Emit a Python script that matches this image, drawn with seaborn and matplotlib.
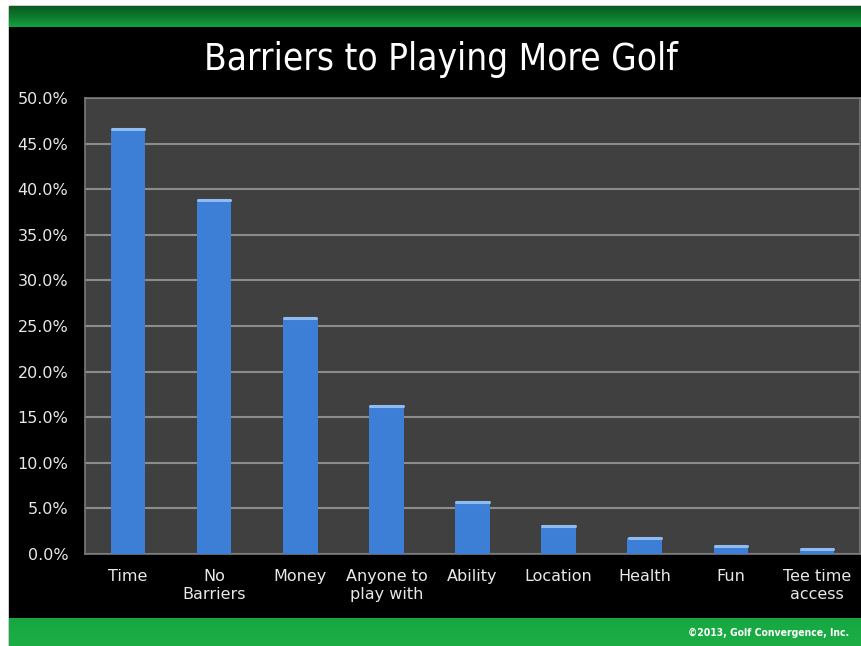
import matplotlib
matplotlib.use("Agg")
import matplotlib.pyplot as plt
import matplotlib.patches as mpatches
import numpy as np
import pandas as pd
import seaborn as sns

# Survey results: share of golfers citing each barrier
categories = ["Time", "No\nBarriers", "Money", "Anyone to\nplay with", "Ability",
              "Location", "Health", "Fun", "Tee time\naccess"]
shares = [46.6, 38.8, 25.9, 16.2, 5.7, 3.1, 1.7, 0.9, 0.5]
y_ticks = [0, 5, 10, 15, 20, 25, 30, 35, 40, 45, 50]
title = "Barriers to Playing More Golf"
credit = "©2013, Golf Convergence, Inc."

df = pd.DataFrame({"barrier": categories, "share": shares})

sns.set_theme(style="dark")
plt.rcParams["font.family"] = ["DejaVu Sans"]

W, H = 862, 646
fig = plt.figure(figsize=(W / 100, H / 100), dpi=100)
fig.patch.set_facecolor("white")

def fx(px):
    return px / W

def fy(py):
    return 1 - py / H

# slide background: black panel with green bands above and below
fig.patches.append(mpatches.Rectangle((fx(9), fy(646)), fx(862 - 9), (646 - 6) / H,
                                      transform=fig.transFigure, color="black", zorder=-5))
grad = np.linspace(0, 1, 50).reshape(-1, 1)
band_ax = fig.add_axes([fx(9), fy(27), fx(862 - 9), (27 - 6) / H])
band_ax.imshow(grad, aspect="auto", extent=[0, 1, 0, 1],
               cmap=matplotlib.colors.LinearSegmentedColormap.from_list(
                   "g1", ["#0b5a22", "#0d7a2e", "#13a040"]))
band_ax.set_axis_off()
bot_ax = fig.add_axes([fx(9), 0, fx(862 - 9), (646 - 618) / H])
bot_ax.imshow(grad, aspect="auto", extent=[0, 1, 0, 1],
              cmap=matplotlib.colors.LinearSegmentedColormap.from_list(
                  "g2", ["#17a742", "#1cae45"]))
bot_ax.set_axis_off()
bot_ax.text(0.985, 0.45, credit, color="white", fontsize=7.5, ha="right", va="center",
            transform=bot_ax.transAxes, fontweight="bold", fontstretch="condensed")

ax = fig.add_axes([fx(85), fy(554), fx(860 - 85), (554 - 98) / H])
ax.set_facecolor("#404040")

sns.barplot(data=df, x="barrier", y="share", color="#3d7fd6", width=0.4,
            saturation=1, linewidth=0, edgecolor="none", ax=ax, zorder=3)

# lighter cap along the top of each bar
for p in ax.patches:
    x0, w, h = p.get_x(), p.get_width(), p.get_height()
    ax.plot([x0 + w * 0.03, x0 + w * 0.97], [h, h], color="#8fbdf2",
            linewidth=2.2, solid_capstyle="round", zorder=4)

ax.set_ylim(0, 50)
ax.set_xlim(-0.5, len(categories) - 0.5)
ax.set_yticks(y_ticks)
ax.set_yticklabels([f"{v:.1f}%" for v in y_ticks])
ax.yaxis.grid(True, color="#8c8c8c", linewidth=1.5, zorder=0)
ax.xaxis.grid(False)
ax.set_axisbelow(True)
ax.set_xlabel("")
ax.set_ylabel("")
ax.tick_params(axis="y", length=0, pad=12, labelsize=11.5, labelcolor="#e8e8e8")
ax.tick_params(axis="x", length=0, pad=11, labelsize=11.5, labelcolor="#e8e8e8")
for lab in ax.get_xticklabels():
    lab.set_linespacing(1.2)
for s in ax.spines.values():
    s.set_visible(True)
    s.set_color("#7a7a7a")
    s.set_linewidth(1.2)

fig.text(fx(441), fy(60), title, color="white", fontsize=26.5,
         fontstretch="condensed", ha="center", va="center")

fig.savefig("out.png", dpi=100, facecolor=fig.get_facecolor())
